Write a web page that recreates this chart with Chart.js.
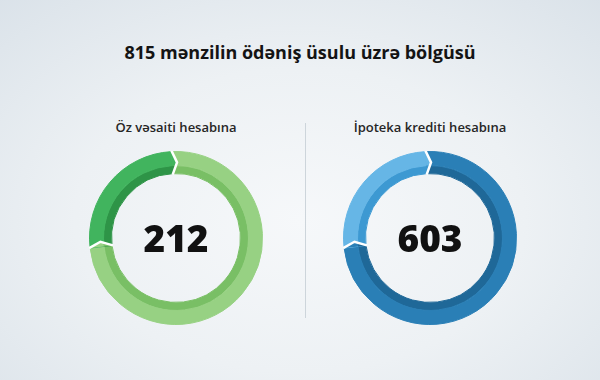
<!DOCTYPE html>
<html>
<head>
<meta charset="utf-8">
<script src="https://cdn.jsdelivr.net/npm/chart.js@4"></script>
<style>
  html, body { margin: 0; padding: 0; }
  body {
    width: 600px; height: 380px; overflow: hidden; position: relative;
    background: radial-gradient(ellipse 75% 80% at 50% 58%, #f6f8fa 0%, #edf1f4 50%, #dae2e9 100%);
    font-family: "Open Sans", "Noto Sans", sans-serif;
  }
  #title {
    position: absolute; left: 0; width: 600px; top: 40px; text-align: center;
    font-size: 18px; font-weight: 700; color: #141414;
  }
  .label {
    position: absolute; width: 220px; top: 118px; text-align: center;
    font-size: 13px; font-weight: 600; color: #262626;
  }
  .box { position: absolute; width: 174px; height: 174px; top: 151px; }
  .num {
    position: absolute; width: 174px; top: 151px; height: 174px; line-height: 174px;
    text-align: center; font-size: 37px; font-weight: 800; color: #111;
  }
  #divider { position: absolute; left: 305px; top: 123px; width: 1px; height: 195px; background: #cdd5db; }
</style>
</head>
<body>
<div id="title"></div>
<div id="divider"></div>
<div class="label" id="lab0" style="left:66px"></div>
<div class="label" id="lab1" style="left:320px"></div>
<div class="box" style="left:89px"><canvas id="chart0"></canvas></div>
<div class="box" style="left:343px"><canvas id="chart1"></canvas></div>
<div class="num" id="num0" style="left:89px"></div>
<div class="num" id="num1" style="left:343px"></div>
<script>
const title = '815 mənzilin ödəniş üsulu üzrə bölgüsü';
const categories = ['Öz vəsaiti hesabına', 'İpoteka krediti hesabına'];
const values = [212, 603];
// slice order on the ring: ipoteka first (from the top, clockwise), then öz vəsaiti
const sliceOrder = [1, 0];
// [outer band, inner band] colours for highlighted / other part of each ring
const greenDark = ['#41b45e', '#2e9447'];
const greenLight = ['#97d183', '#79bf65'];
const blueDark = ['#2a7fb6', '#1f6898'];
const blueLight = ['#66b6e6', '#3d99d2'];

document.getElementById('title').textContent = title;

// white arrow notch at every slice boundary
const chevrons = {
  id: 'chevrons',
  afterDatasetsDraw(chart) {
    const ctx = chart.ctx;
    const m0 = chart.getDatasetMeta(0), m1 = chart.getDatasetMeta(1);
    const n = m0.data.length;
    const cx = m0.data[0].x, cy = m0.data[0].y;
    const rOut = m0.data[0].outerRadius, rIn = m1.data[0].innerRadius;
    const rMid = (rOut + rIn) / 2, half = (rOut - rIn) / 2;
    const tip = 5;
    const off = r => tip * Math.max(0, 1 - Math.abs(r - rMid) / half);
    const pt = (a, r) => [cx + r * Math.cos(a) - off(r) * Math.sin(a), cy + r * Math.sin(a) + off(r) * Math.cos(a)];
    ctx.save();
    for (let i = 0; i < n; i++) {
      const a = m0.data[i].startAngle;
      const prev = (i - 1 + n) % n;
      [0, 1].forEach(k => {
        const el = chart.getDatasetMeta(k).data[prev];
        const ri = el.innerRadius, ro = el.outerRadius;
        ctx.beginPath();
        ctx.moveTo(cx + ri * Math.cos(a), cy + ri * Math.sin(a));
        ctx.lineTo(cx + ro * Math.cos(a), cy + ro * Math.sin(a));
        const rs = [ro];
        if (rMid < ro && rMid > ri) rs.push(rMid);
        rs.push(ri);
        rs.forEach(r => { const p = pt(a, r); ctx.lineTo(p[0], p[1]); });
        ctx.closePath();
        ctx.fillStyle = chart.data.datasets[k].backgroundColor[prev];
        ctx.fill();
      });
      ctx.beginPath();
      [rOut + 1, rMid, rIn - 1].forEach((r, j) => {
        const p = pt(a, r);
        if (j === 0) ctx.moveTo(p[0], p[1]); else ctx.lineTo(p[0], p[1]);
      });
      ctx.strokeStyle = '#ffffff';
      ctx.lineWidth = 2.5;
      ctx.lineJoin = 'miter';
      ctx.stroke();
    }
    ctx.restore();
  }
};

function makeRing(id, colorsFor) {
  const data = sliceOrder.map(i => values[i]);
  const outer = sliceOrder.map(i => colorsFor(i)[0]);
  const inner = sliceOrder.map(i => colorsFor(i)[1]);
  new Chart(document.getElementById(id), {
    type: 'doughnut',
    data: {
      labels: sliceOrder.map(i => categories[i]),
      datasets: [
        { data: data, backgroundColor: outer, borderColor: outer, borderWidth: 1, weight: 14 },
        { data: data, backgroundColor: inner, borderColor: inner, borderWidth: 1, weight: 8 }
      ]
    },
    options: {
      responsive: true,
      maintainAspectRatio: false,
      animation: false,
      events: [],
      cutout: '74.5%',
      rotation: -3,
      layout: { padding: 0 },
      plugins: { legend: { display: false }, tooltip: { enabled: false } }
    },
    plugins: [chevrons]
  });
}

// left ring highlights "Öz vəsaiti", right ring highlights "İpoteka"
makeRing('chart0', i => i === 0 ? greenDark : greenLight);
makeRing('chart1', i => i === 1 ? blueDark : blueLight);

categories.forEach((c, i) => {
  document.getElementById('lab' + i).textContent = c;
  document.getElementById('num' + i).textContent = values[i];
});
</script>
</body>
</html>
